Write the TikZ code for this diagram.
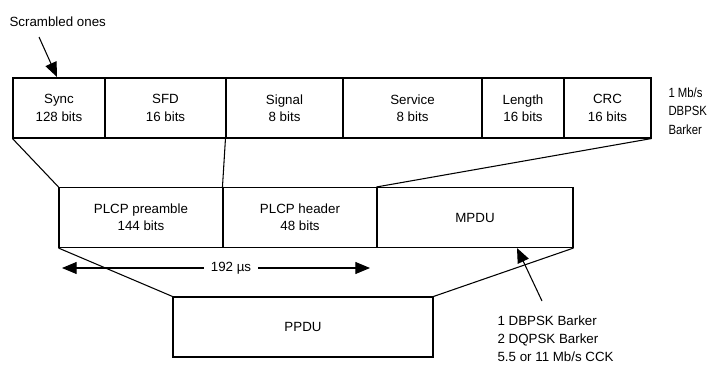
\documentclass[tikz,border=0pt]{standalone}
\usepackage{fontspec}
\setmainfont{Liberation Sans}
\newfontfamily\narrowfont{Liberation Sans}[FakeStretch=0.85]
\usetikzlibrary{arrows.meta}

\begin{document}
\begin{tikzpicture}[x=.75pt, y=-.75pt, line width=.8pt,
  field/.style={draw, inner sep=0pt, minimum height=45pt, align=center, font=\fontsize{10}{13}\selectfont},
  lbl/.style={inner sep=0pt, align=left, font=\fontsize{10}{13.5}\selectfont},
  bigtip/.style={-{Triangle[length=11pt,width=9pt]}}]
\useasboundingbox (0,0) rectangle (711,365);
\foreach \nm/\xa/\xb/\txt in {sync/13/105/{Sync\\128 bits},sfd/105/226/{SFD\\16 bits},signal/226/343/{Signal\\8 bits},service/343/482/{Service\\8 bits},length/482/564/{Length\\16 bits},crc/564/651/{CRC\\16 bits}}{
  \node[field, minimum width={(\xb-\xa)*.75pt}] (\nm) at ({(\xa+\xb)/2},108) {\txt};
}
\foreach \nm/\xa/\xb/\txt in {preamble/59/223/{PLCP preamble\\144 bits},header/223/377/{PLCP header\\48 bits},mpdu/377/573/{MPDU}}{
  \node[field, minimum width={(\xb-\xa)*.75pt}] (\nm) at ({(\xa+\xb)/2},217.5) {\txt};
}
\node[field, minimum width=195pt] (ppdu) at (303,327) {PPDU};

\draw (sync.south west)--(preamble.north west);
\draw (signal.south west)--(header.north west);
\draw (crc.south east)--(mpdu.north west);
\draw (preamble.south west)--(ppdu.north west);
\draw (mpdu.south east)--(ppdu.north east);

\node[lbl, anchor=west] (scr) at (9,22) {Scrambled ones};
\coordinate (scrtail) at (39,37);
\coordinate (scrtip) at (57,77);
\draw[bigtip] (scrtail)--(scrtip);

\node[lbl, anchor=west, font=\narrowfont\fontsize{10}{14}\selectfont] (rate1) at (668,111) {1 Mb/s\\DBPSK\\Barker};

\node[lbl, inner sep=5pt] (dur) at (231,268) {192 µs};
\coordinate (durl) at (62,268);
\coordinate (durr) at (370,268);
\draw[bigtip] (dur.west)--(durl);
\draw[bigtip] (dur.east)--(durr);

\node[lbl, anchor=west] (rates) at (497,339) {1 DBPSK Barker\\2 DQPSK Barker\\5.5 or 11 Mb/s CCK};
\coordinate (ratetail) at (542,301);
\draw[bigtip] (ratetail)--(mpdu.south -| 517,0);
\end{tikzpicture}
\end{document}
